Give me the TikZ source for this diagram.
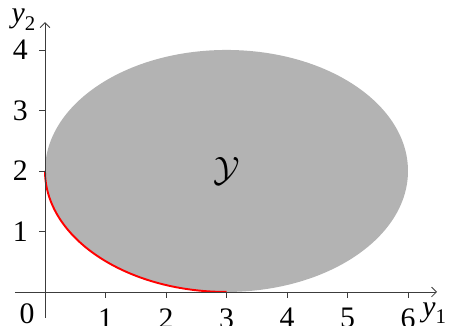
\documentclass[tikz,border=0pt]{standalone}
\usepackage{amsmath,amssymb}
\usepackage{fontspec}
\setmainfont{Liberation Serif}
\usepackage{xcolor}
\usepackage{tikz}
\usetikzlibrary{arrows.meta,positioning}
\definecolor{setc}{RGB}{179,179,179}
\definecolor{axc}{RGB}{60,60,60}

\begin{document}
\begin{tikzpicture}[font=\fontsize{14}{16}\selectfont,>=Straight Barb]
\useasboundingbox (-0.744,-0.562) rectangle (6.678,4.826);
% feasible set
\fill[setc] (3,2) ellipse [x radius=3,y radius=2];
\node[scale=1.15] (setY) at (3,2) {$\mathcal{Y}$};
% lower left boundary
\draw[red,line width=0.9pt] (0,2) arc [start angle=180,end angle=270,x radius=3,y radius=2];
% axes
\coordinate (xa) at (-0.5,0); \coordinate (xb) at (6.48,0);
\coordinate (ya) at (0,-0.43); \coordinate (yb) at (0,4.46);
\draw[axc,->] (xa) -- (xb); \draw[axc,->] (ya) -- (yb);
\foreach \i in {1,...,6} {\draw[axc] (\i,0) -- (\i,-0.1);
  \node[anchor=north,inner sep=0] (tx\i) at (\i,-0.265) {\i};}
\foreach \i in {1,...,4} {\draw[axc] (0,\i) -- (-0.1,\i);
  \node[anchor=east,inner sep=0] (ty\i) at (-0.28,\i) {\i};}
\node[anchor=north east,inner sep=0] (orig) at (-0.165,-0.18) {0};
\node[anchor=north west,inner sep=0] (lx) at (6.23,-0.165) {$\textit{y}_{\text{1}}$};
\node[anchor=north west,inner sep=0] (ly) at (-0.56,4.68) {$\textit{y}_{\text{2}}$};
\end{tikzpicture}
\end{document}
